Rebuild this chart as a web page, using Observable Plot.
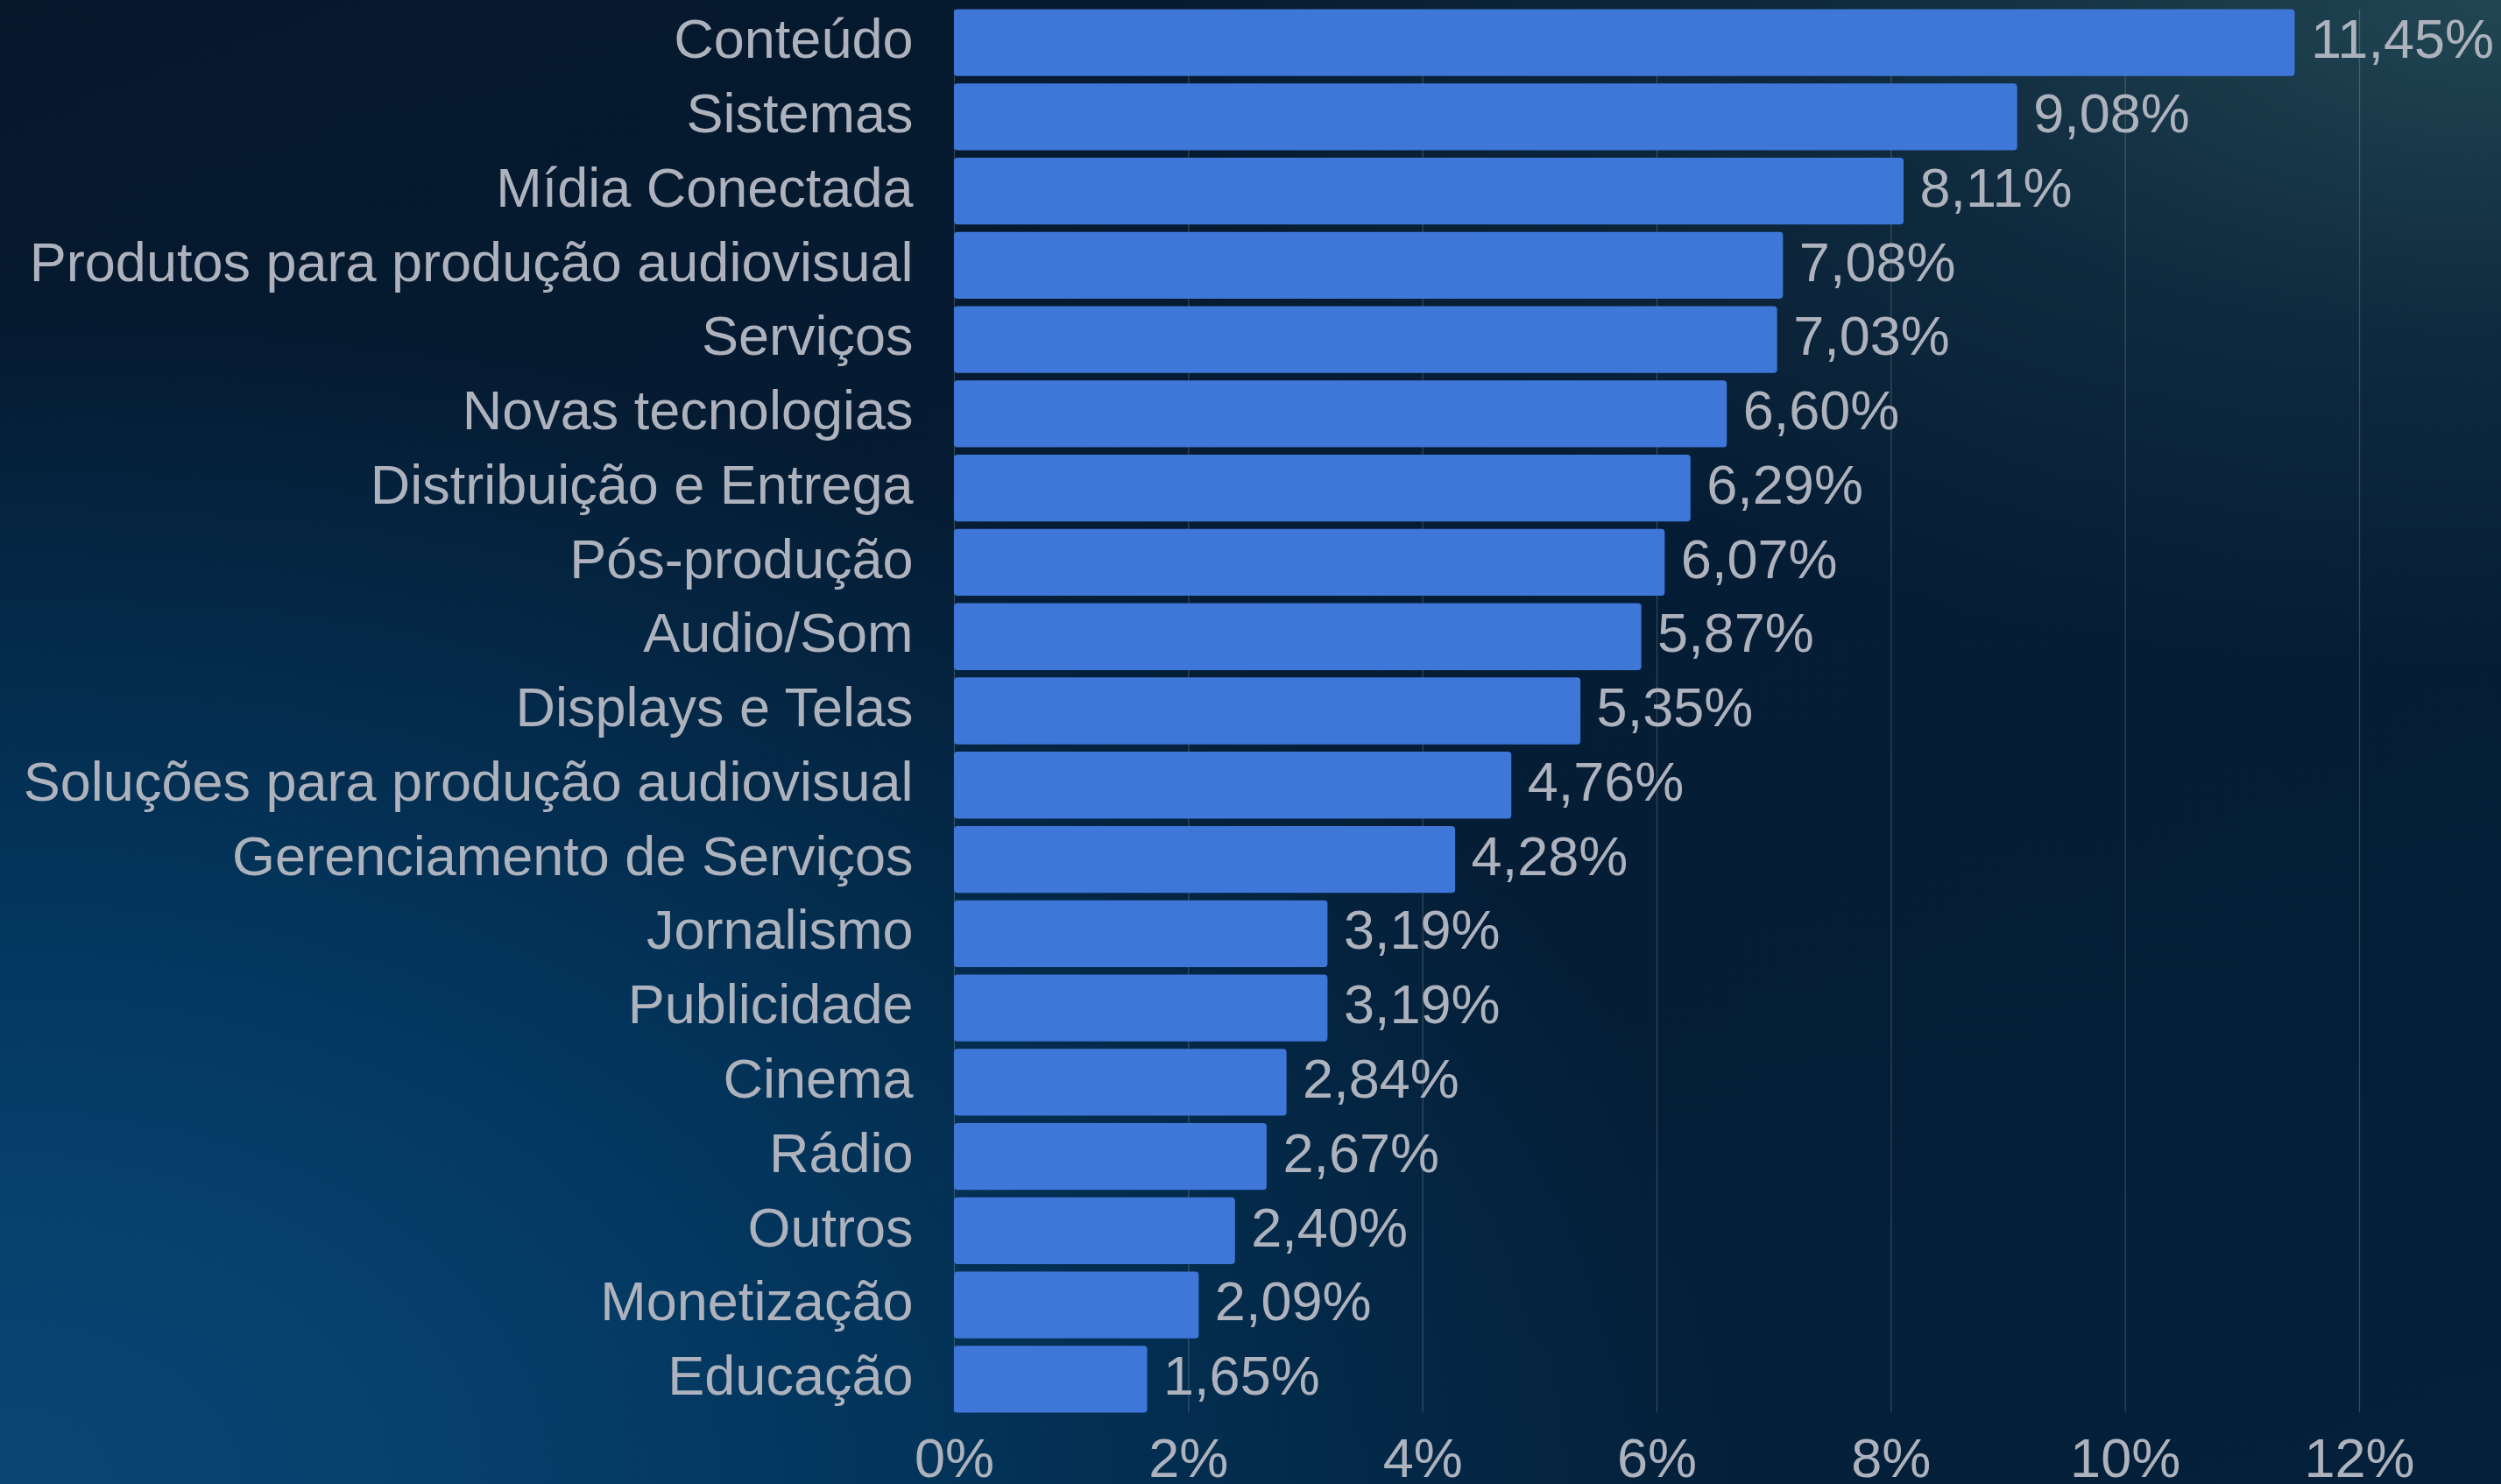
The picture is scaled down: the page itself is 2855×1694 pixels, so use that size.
<!DOCTYPE html>
<html>
<head>
<meta charset="utf-8">
<script src="https://cdn.jsdelivr.net/npm/d3@7"></script>
<script src="https://cdn.jsdelivr.net/npm/@observablehq/plot@0.6"></script>
<style>
  html, body { margin: 0; padding: 0; }
  body {
    width: 2855px; height: 1694px; overflow: hidden;
    background:
      radial-gradient(ellipse 55% 45% at 100% 0%, rgba(38,78,88,0.85) 0%, rgba(30,62,78,0.4) 50%, rgba(6,26,46,0) 100%),
      radial-gradient(ellipse 70% 80% at 0% 100%, #0a4575 0%, #06406c 25%, #03355c 50%, rgba(4,32,58,0) 100%),
      linear-gradient(160deg, #06182c 0%, #051c33 40%, #04203a 100%);
  }
  #chart svg { display: block; }
</style>
</head>
<body>
<div id="chart"></div>
<script>
const categories = [
  "Conteúdo", "Sistemas", "Mídia Conectada", "Produtos para produção audiovisual",
  "Serviços", "Novas tecnologias", "Distribuição e Entrega", "Pós-produção",
  "Audio/Som", "Displays e Telas", "Soluções para produção audiovisual",
  "Gerenciamento de Serviços", "Jornalismo", "Publicidade", "Cinema", "Rádio",
  "Outros", "Monetização", "Educação"
];
const values = [
  11.45, 9.08, 8.11, 7.08, 7.03, 6.60, 6.29, 6.07, 5.87, 5.35, 4.76,
  4.28, 3.19, 3.19, 2.84, 2.67, 2.40, 2.09, 1.65
];
const xTicks = [0, 2, 4, 6, 8, 10, 12];

const data = categories.map((c, i) => ({ category: c, value: values[i] }));
const fmtValue = v => v.toFixed(2).replace(".", ",") + "%";
const textColor = "#adb2bd";
const font = "'Liberation Sans', Arial, sans-serif";
const fs = 63;

const chart = Plot.plot({
  width: 2855,
  height: 1694,
  marginLeft: 1089,
  marginRight: 162,
  marginTop: 2,
  marginBottom: 73,
  style: { background: "transparent", fontFamily: font, fontSize: fs + "px", color: textColor },
  x: { domain: [0, 12], axis: null },
  y: { domain: categories, padding: 0.1, round: false, axis: null },
  marks: [
    Plot.ruleX(xTicks, { x: d => d, stroke: "#ffffff", strokeOpacity: 0.18, strokeWidth: 1.3, insetTop: 8.5, insetBottom: 8.5 }),
    Plot.barX(data, { x: "value", y: "category", fill: "#3e77d8", rx: 4 }),
    Plot.text(data, { x: "value", y: "category", text: d => fmtValue(d.value), textAnchor: "start", dx: 18, dy: -3, fill: textColor, fontSize: fs }),
    Plot.axisY({ tickSize: 0, tickPadding: 47, fontSize: fs, color: textColor, dy: -3, label: null }),
    Plot.axisX({ ticks: xTicks, tickSize: 0, tickPadding: 20, fontSize: fs, color: textColor, tickFormat: d => d + "%", label: null })
  ]
});
document.getElementById("chart").appendChild(chart);
</script>
</body>
</html>
